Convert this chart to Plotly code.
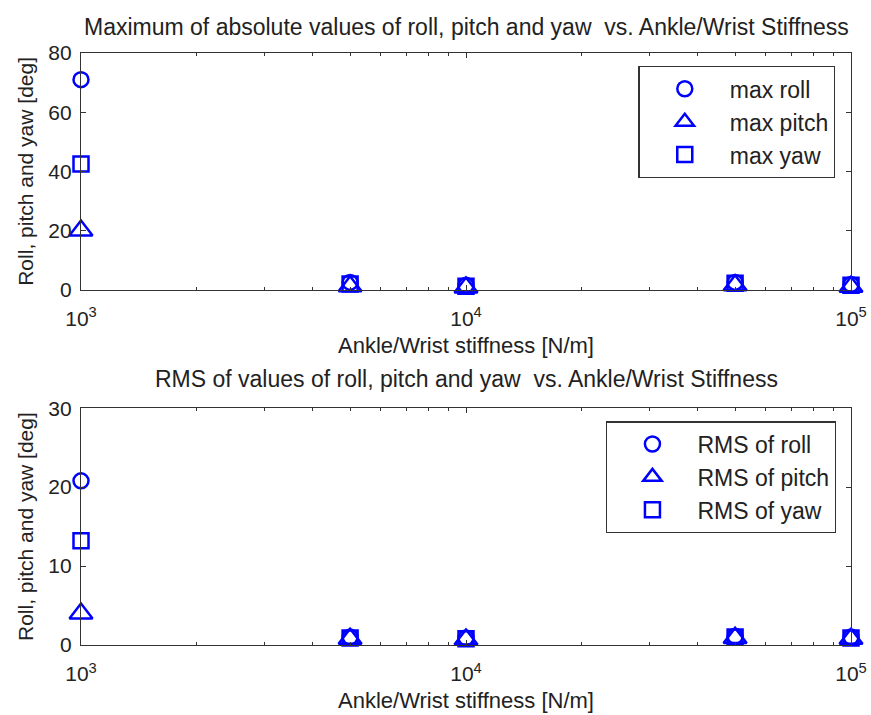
import plotly.graph_objects as go

stiffness = [1e3, 5e3, 1e4, 5e4, 1e5]

max_roll = [71, 2.5, 1.5, 2.5, 1.8]
max_pitch = [20, 1.2, 0.8, 1.5, 1.0]
max_yaw = [42.5, 2.0, 1.2, 2.2, 1.5]

rms_roll = [20.8, 1.0, 0.9, 1.1, 1.0]
rms_pitch = [4.0, 0.8, 0.7, 0.9, 0.8]
rms_yaw = [13.2, 0.9, 0.8, 1.0, 0.9]

top_names = ["max roll", "max pitch", "max yaw"]
bot_names = ["RMS of roll", "RMS of pitch", "RMS of yaw"]
symbols = ["circle-open", "triangle-up-open", "square-open"]
sizes = [15, 20, 15]

xtickvals = [1e3, 1e4, 1e5]
xticktext = ["10<sup>3</sup>", "10<sup>4</sup>", "10<sup>5</sup>"]
xminor = [2e3, 3e3, 4e3, 5e3, 6e3, 7e3, 8e3, 9e3, 2e4, 3e4, 4e4, 5e4, 6e4, 7e4, 8e4, 9e4]

BLUE = "#0000ff"
FONT = "Liberation Sans, Arial, sans-serif"
TXT = "#222222"

fig = go.Figure()

for i, (name, ys) in enumerate(zip(top_names, [max_roll, max_pitch, max_yaw])):
    fig.add_trace(go.Scatter(
        x=stiffness, y=ys, mode="markers", name=name,
        marker=dict(symbol=symbols[i], size=sizes[i], color=BLUE, line=dict(width=2.5, color=BLUE)),
        xaxis="x", yaxis="y", legend="legend", cliponaxis=False))

for i, (name, ys) in enumerate(zip(bot_names, [rms_roll, rms_pitch, rms_yaw])):
    fig.add_trace(go.Scatter(
        x=stiffness, y=ys, mode="markers", name=name,
        marker=dict(symbol=symbols[i], size=sizes[i], color=BLUE, line=dict(width=2.5, color=BLUE)),
        xaxis="x2", yaxis="y2", legend="legend2", cliponaxis=False))

axis_common = dict(showline=True, linecolor="#333", linewidth=1.3, mirror="ticks",
                   ticks="inside", ticklen=5, tickcolor="#333", tickwidth=1,
                   showgrid=False, zeroline=False, automargin=False,
                   tickfont=dict(family=FONT, size=21, color=TXT))

xcommon = dict(axis_common, type="log", range=[2.99999, 5.00001], tickvals=xtickvals, ticktext=xticktext,
               ticklabelstandoff=10,
               minor=dict(tickvals=xminor, ticks="inside", ticklen=3, tickcolor="#333", showgrid=False),
               title=dict(text="Ankle/Wrist stiffness [N/m]", font=dict(family=FONT, size=22, color=TXT), standoff=8))

ycommon = dict(axis_common, ticklabelstandoff=4,
               title=dict(text="Roll, pitch and yaw [deg]", font=dict(family=FONT, size=21, color=TXT), standoff=8))

legend_common = dict(xanchor="left", yanchor="top", bordercolor="#333", borderwidth=1.3,
                     bgcolor="white", font=dict(family=FONT, size=23, color=TXT),
                     itemwidth=80, tracegroupgap=0)

fig.update_layout(
    width=871, height=715,
    margin=dict(l=81, r=20, t=53, b=70, autoexpand=False),
    paper_bgcolor="white", plot_bgcolor="white",
    font=dict(family=FONT, size=21, color=TXT),
    xaxis=dict(xcommon, anchor="y"),
    xaxis2=dict(xcommon, anchor="y2"),
    yaxis=dict(ycommon, domain=[0.6, 1.0], range=[0, 80], tickvals=[0, 20, 40, 60, 80], anchor="x"),
    yaxis2=dict(ycommon, domain=[0.0, 0.4], range=[0, 30], tickvals=[0, 10, 20, 30], anchor="x2"),
    legend=dict(legend_common, x=0.724, y=0.978),
    legend2=dict(legend_common, x=0.682, y=0.378),
    showlegend=True,
    annotations=[
        dict(text="Maximum of absolute values of roll, pitch and yaw  vs. Ankle/Wrist Stiffness",
             xref="paper", yref="paper", x=0.5, y=1.0, yshift=11, yanchor="bottom", showarrow=False,
             font=dict(family=FONT, size=23, color=TXT)),
        dict(text="RMS of values of roll, pitch and yaw  vs. Ankle/Wrist Stiffness",
             xref="paper", yref="paper", x=0.5, y=0.4, yshift=14, yanchor="bottom", showarrow=False,
             font=dict(family=FONT, size=23, color=TXT)),
    ],
)

fig.write_html("out.html")
